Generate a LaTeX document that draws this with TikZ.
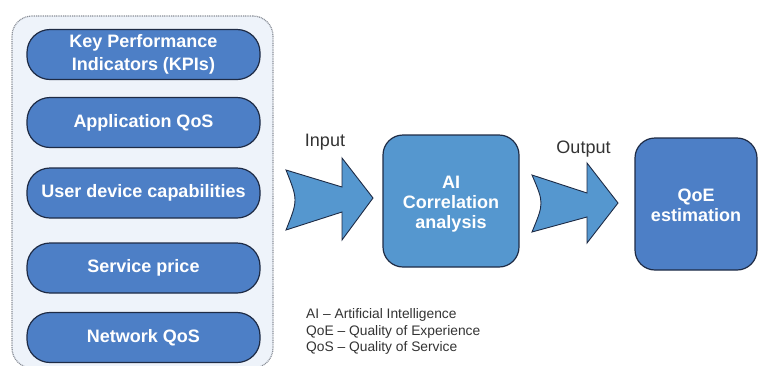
\documentclass[tikz,border=0pt]{standalone}
\usepackage{fontspec}
\setmainfont{Liberation Sans}
\definecolor{pillblue}{HTML}{4D7FC6}
\definecolor{aiblue}{HTML}{5597CF}
\definecolor{edgeline}{HTML}{1E2B45}
\definecolor{panelfill}{HTML}{EEF3FA}
\definecolor{panelline}{HTML}{8A8F98}
\definecolor{labeltext}{HTML}{333333}
\tikzset{
  panelbox/.style={draw=panelline, line width=1.2pt, dash pattern=on 1pt off 0.8pt,
    fill=panelfill, rounded corners=20pt, minimum width=261pt, minimum height=352pt, inner sep=0pt},
  pill/.style={draw=edgeline, line width=1.2pt, fill=pillblue, rounded corners=23pt,
    minimum width=233pt, minimum height=50pt, text=white,
    font=\fontsize{18}{22.5}\selectfont\bfseries, align=center, inner sep=0pt},
  bigbox/.style={draw=edgeline, line width=1.2pt, rounded corners=20pt,
    minimum height=132pt, inner sep=0pt},
  boxtext/.style={text=white, font=\fontsize{18}{20}\selectfont\bfseries, align=center, inner sep=0pt},
  blockarrow/.style={draw=edgeline, line width=0.9pt, fill=aiblue, line join=miter},
  flowlabel/.style={font=\fontsize{18}{20}\selectfont, text=labeltext, anchor=base, inner sep=0pt},
  legendline/.style={font=\fontsize{13.8}{16}\selectfont, text=labeltext, anchor=base west, inner sep=0pt}
}
\begin{document}
\begin{tikzpicture}[x=1pt,y=-1pt]
\useasboundingbox (0,0) rectangle (760,365);
\begin{scope}
\clip (0,0) rectangle (760,365);
% input panel holding the five factors
\node[panelbox] (panel) at (142.5,192) {};
\end{scope}
\node[pill] (kpi) at (143.5,54.5) {Key Performance\\Indicators (KPIs)};
\node[pill] (appqos) at (143.5,122.5) {Application QoS};
\node[pill] (device) at (143.5,193) {User device capabilities};
\node[pill] (price) at (143.5,268) {Service price};
\node[pill] (netqos) at (143.5,337.5) {Network QoS};

% processing and result boxes, with their captions
\node[bigbox, fill=aiblue, minimum width=136pt] (ai) at (451,201) {};
\node[boxtext] (aitext) at ([yshift=-3pt]ai.center) {AI\\Correlation\\analysis};
\node[bigbox, fill=pillblue, minimum width=122pt] (qoe) at (696,204) {};
\node[boxtext] (qoetext) at ([yshift=-1.5pt]qoe.center) {QoE\\estimation};

% block arrows
\draw[blockarrow] (286,170) -- (342,187) -- (342,158) -- (373,198) -- (342,240)
  -- (342,212) -- (286,230) .. controls (298,200) .. cycle;
\draw[blockarrow] (532,175) -- (587,193) -- (587,163) -- (618,203) -- (587,243)
  -- (587,217) -- (532,232) .. controls (544,203) .. cycle;

\node[flowlabel] (inlabel) at (325,146.5) {Input};
\node[flowlabel] (outlabel) at (583.5,153) {Output};

% abbreviations
\node[legendline] (leg1) at (306,318.5) {AI – Artificial Intelligence};
\node[legendline] (leg2) at (306,335) {QoE – Quality of Experience};
\node[legendline] (leg3) at (306,351.5) {QoS – Quality of Service};
\end{tikzpicture}
\end{document}
